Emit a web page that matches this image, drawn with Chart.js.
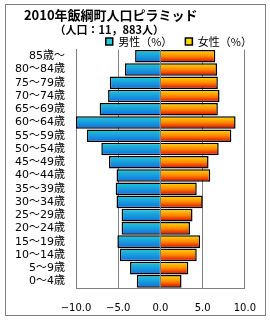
<!DOCTYPE html>
<html><head><meta charset="utf-8">
<script src="https://cdn.jsdelivr.net/npm/chart.js@4.4.1/dist/chart.umd.min.js"></script>
<style>html,body{margin:0;padding:0;background:#fff}#wrap{width:270px;height:320px;position:relative}</style>
</head><body><div id="wrap"><canvas id="c" width="270" height="320"></canvas></div>
<script>
const ageGroups = ['85歳～','80～84歳','75～79歳','70～74歳','65～69歳','60～64歳','55～59歳','50～54歳','45～49歳','40～44歳','35～39歳','30～34歳','25～29歳','20～24歳','15～19歳','10～14歳','5～9歳','0～4歳'];
const malePct = [-3.0,-4.2,-6.0,-6.2,-7.2,-10.0,-8.7,-7.0,-6.1,-5.2,-5.3,-5.2,-4.6,-4.6,-5.1,-4.8,-3.6,-2.8];
const femalePct = [6.5,6.7,6.8,7.0,6.8,8.9,8.4,6.9,5.7,5.9,4.3,5.0,3.8,3.5,4.7,4.3,3.3,2.5];
const xTickValues = [-10,-5,0,5,10];
const seriesNames = ['男性（%）','女性（%）'];
const titleText = '2010年飯綱町人口ピラミッド';
const subtitleText = '（人口：11，883人）';

const maleStops = [[0,'#22CAD8'],[1,'#0E6EE0']];
const femaleStops = [[0,'#FFDC00'],[0.5,'#FF8A00'],[1,'#DC0000']];
const BAR_PCT = 0.95;

function barGradient(ctx, stops) {
  const chart = ctx.chart;
  const c = chart.ctx;
  let top = 37, bottom = 45;
  if (ctx.type === 'data' && chart.scales && chart.scales.y && chart.scales.y.height > 0) {
    const ys = chart.scales.y;
    const center = ys.getPixelForValue(ctx.dataIndex);
    const half = (ys.height / ageGroups.length) * BAR_PCT / 2;
    top = center - half; bottom = center + half;
  }
  const g = c.createLinearGradient(0, top, 0, bottom);
  stops.forEach(s => g.addColorStop(s[0], s[1]));
  return g;
}

const framePlugin = {
  id: 'frame',
  beforeDraw(chart) {
    const c = chart.ctx;
    c.save();
    c.fillStyle = '#fff';
    c.fillRect(0, 0, chart.width, chart.height);
    c.strokeStyle = '#808080';
    c.lineWidth = 1;
    c.strokeRect(5.5, 4.5, 260, 311);
    c.restore();
  }
};

const CJK = '"Noto Sans CJK JP", sans-serif';
const MIX = '"DejaVu Sans", "Noto Sans CJK JP", sans-serif';

new Chart(document.getElementById('c'), {
  type: 'bar',
  data: {
    labels: ageGroups,
    datasets: [
      { label: seriesNames[0], data: malePct, backgroundColor: (ctx) => barGradient(ctx, maleStops),
        borderColor: '#000', borderWidth: 1.5, barPercentage: BAR_PCT, categoryPercentage: 1, stack: 's', xAxisID: 'x', yAxisID: 'y' },
      { label: seriesNames[1], data: femalePct, backgroundColor: (ctx) => barGradient(ctx, femaleStops),
        borderColor: '#000', borderWidth: 1.5, barPercentage: BAR_PCT, categoryPercentage: 1, stack: 's', xAxisID: 'x', yAxisID: 'y' }
    ]
  },
  options: {
    indexAxis: 'y',
    responsive: false,
    animation: false,
    devicePixelRatio: 1,
    layout: { padding: { left: 5, right: 5, top: 4, bottom: 4 } },
    plugins: {
      title: { display: true, text: '　  ' + titleText, align: 'start', color: '#000',
        font: { size: 13, weight: 'bold', family: CJK, lineHeight: 0.2 }, padding: { top: 9.5, bottom: 0 } },
      subtitle: { display: true, text: '　　　　　' + subtitleText, align: 'start', color: '#000',
        font: { size: 11, weight: 'bold', family: CJK, lineHeight: 1.2 }, padding: { top: 7, bottom: -13.2 } },
      legend: { display: true, position: 'top', align: 'end', maxHeight: 26.5,
        labels: { boxWidth: 7, boxHeight: 7, padding: 13, color: '#000', font: { size: 11, family: CJK } } },
      tooltip: { enabled: false }
    },
    scales: {
      x: {
        type: 'linear', min: -10, max: 10, stacked: false,
        afterBuildTicks(s) { s.ticks = xTickValues.map(v => ({ value: v })); },
        afterFit(s) { s.height = 28; },
        grid: { color: '#808080', lineWidth: 1, drawTicks: false },
        border: { display: true, color: '#808080' },
        ticks: { padding: 14, color: '#000', font: { size: 10, family: MIX },
          callback: (v) => Number(v).toFixed(1).replace('-', '−') }
      },
      y: {
        type: 'category', stacked: true,
        afterFit(s) { s.width = 71; },
        grid: { display: false, drawTicks: false },
        border: { display: true, color: '#808080' },
        ticks: { padding: 11, color: '#000', autoSkip: false, font: { size: 11, family: MIX } }
      },
      yR: {
        type: 'linear', position: 'right', display: true,
        afterFit(s) { s.width = 16; },
        grid: { display: false, drawTicks: false },
        border: { display: false },
        ticks: { display: false }
      }
    }
  },
  plugins: [framePlugin]
});
</script></body></html>
